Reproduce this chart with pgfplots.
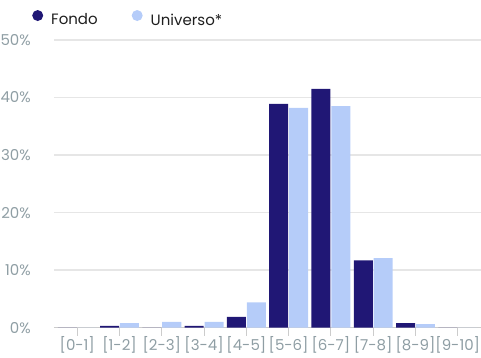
\documentclass[border=0pt]{standalone}
\usepackage{fontspec}
\setmainfont{Poppins}
\usepackage{pgfplots}
\pgfplotsset{compat=1.18}
\definecolor{navy}{HTML}{201775}
\definecolor{lightb}{HTML}{B5CCF9}
\definecolor{gridc}{HTML}{E6E6E6}
\definecolor{axisc}{HTML}{CCCCCC}
\definecolor{labc}{HTML}{8F9EA4}
\definecolor{legc}{HTML}{1E1E1E}
\begin{document}
\begin{tikzpicture}
\useasboundingbox (-54bp,-30.3bp) rectangle (427bp,327.7bp);
\begin{axis}[
  at={(0,0)}, anchor=south west,
  scale only axis, width=427bp, height=287.7bp,
  xmin=-0.55, xmax=9.55, ymin=0, ymax=50,
  ybar, bar width=0.45,
  axis x line*=bottom, axis y line*=left,
  x axis line style={draw=axisc, line width=1.5bp},
  y axis line style={draw=none},
  xtick={0,...,9},
  xticklabels={{[0-1]},{[1-2]},{[2-3]},{[3-4]},{[4-5]},{[5-6]},{[6-7]},{[7-8]},{[8-9]},{[9-10]}},
  ytick={0,10,20,30,40,50},
  yticklabel={\pgfmathprintnumber{\tick}\%},
  /pgf/number format/assume math mode=true,
  ymajorgrids, grid style={draw=gridc, line width=1.5bp},
  x tick style={draw=axisc, line width=1bp},
  y tick style={draw=none},
  tick align=outside,
  major tick length=8bp,
  tick label style={font=\fontsize{15bp}{18bp}\selectfont, text=labc},
  yticklabel style={inner sep=0pt, xshift=-15bp},
  xticklabel style={inner sep=0pt, yshift=-1bp},
  legend columns=2,
  legend style={draw=none, fill=none, inner sep=0pt,
    at={(axis description cs:-0.0515,1.0754)}, anchor=west,
    font=\fontsize{15bp}{18bp}\selectfont, text=legc,
    nodes={inner sep=0pt},
    /tikz/every odd column/.append style={column sep=8bp},
    /tikz/every even column/.append style={column sep=34bp}},
]
\addplot[fill=navy, draw=none, bar shift=-0.235,
  legend image code/.code={\fill[navy] (5.5bp,4.6bp) circle (5.5bp);}]
  coordinates {(0,0) (1,0.3) (2,0) (3,0.3) (4,1.9) (5,38.9) (6,41.5) (7,11.7) (8,0.8) (9,0)};
\addlegendentry{Fondo}
\addplot[fill=lightb, draw=none, bar shift=0.235,
  legend image code/.code={\fill[lightb] (5.5bp,4.6bp) circle (5.5bp);}]
  coordinates {(0,0) (1,0.8) (2,1.0) (3,1.0) (4,4.4) (5,38.2) (6,38.5) (7,12.1) (8,0.6) (9,0)};
\addlegendentry{Universo*}
\end{axis}
\end{tikzpicture}
\end{document}
